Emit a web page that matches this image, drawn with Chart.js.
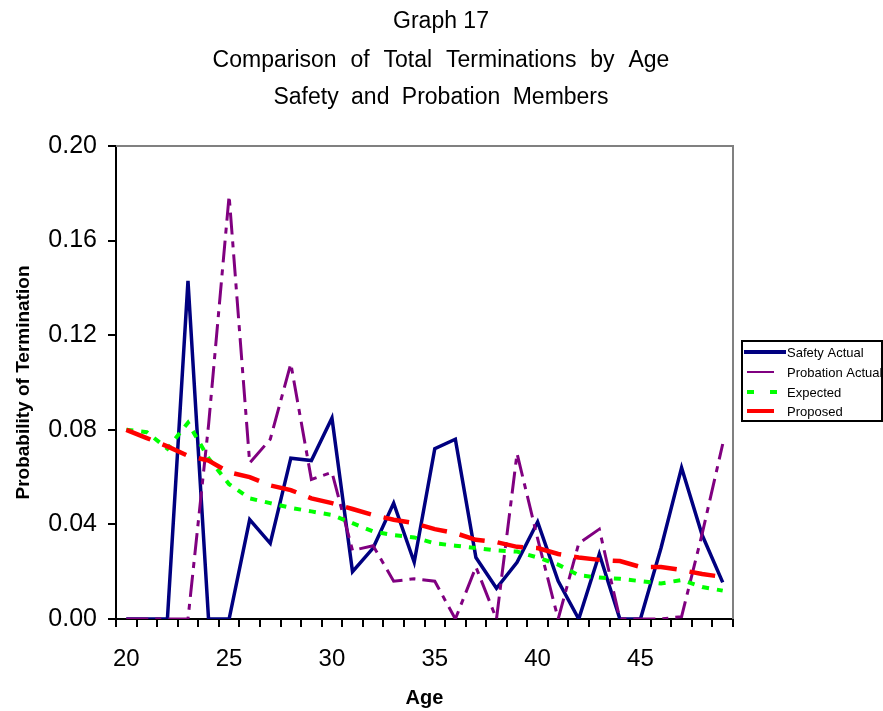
<!DOCTYPE html>
<html><head><meta charset="utf-8">
<script src="https://cdn.jsdelivr.net/npm/chart.js@4.4.1/dist/chart.umd.min.js"></script>
<style>html,body{margin:0;padding:0;background:#fff}</style>
</head><body>
<canvas id="c" width="883" height="711"></canvas>
<script>
const ages = [20,21,22,23,24,25,26,27,28,29,30,31,32,33,34,35,36,37,38,39,40,41,42,43,44,45,46,47,48,49];
const safetyActual = [0,0,0,0.143,0,0,0.042,0.032,0.068,0.067,0.085,0.020,0.030,0.049,0.024,0.072,0.076,0.026,0.013,0.024,0.041,0.016,0,0.0275,0,0,0.030,0.064,0.0355,0.0155];
const probationActual = [0,0,0,0,0.082,0.179,0.066,0.076,0.108,0.059,0.062,0.029,0.031,0.016,0.017,0.016,0,0.022,0,0.070,0.034,0,0.032,0.038,0,0,0,0.001,0.036,0.074];
const expected = [0.080,0.079,0.072,0.083,0.068,0.057,0.051,0.049,0.047,0.0455,0.044,0.0405,0.037,0.0355,0.0345,0.032,0.031,0.030,0.029,0.0285,0.026,0.023,0.0185,0.0175,0.017,0.016,0.015,0.0165,0.0135,0.012];
const proposed = [0.080,0.0765,0.073,0.069,0.067,0.062,0.060,0.0565,0.0545,0.051,0.049,0.0465,0.044,0.042,0.0405,0.038,0.0363,0.0335,0.0325,0.0305,0.030,0.0275,0.026,0.025,0.0245,0.022,0.022,0.0207,0.019,0.0178];
const yTicks = [0,0.04,0.08,0.12,0.16,0.20];
const titleLines = ['Graph 17','Comparison of Total Terminations by Age','Safety and Probation Members'];
const seriesNames = ['Safety Actual','Probation Actual','Expected','Proposed'];

const FONT = "'Liberation Sans', Arial, Helvetica, sans-serif";
Chart.defaults.font.family = FONT;
Chart.defaults.color = '#000';

const decor = {
  id: 'decor',
  beforeDatasetsDraw(chart) {
    const {ctx, chartArea: a} = chart;
    ctx.save();
    ctx.strokeStyle = '#808080';
    ctx.lineWidth = 2;
    ctx.beginPath();
    ctx.moveTo(a.left, a.top);
    ctx.lineTo(a.right, a.top);
    ctx.lineTo(a.right, a.bottom);
    ctx.stroke();
    ctx.restore();
  },
  afterDraw(chart) {
    const ctx = chart.ctx;
    ctx.save();
    // titles
    ctx.fillStyle = '#000';
    ctx.font = '23px ' + FONT;
    ctx.textAlign = 'center';
    ctx.textBaseline = 'alphabetic';
    const ys = [28, 67, 104];
    const ws = ['0px', '7.5px', '6px'];
    titleLines.forEach((t, i) => {
      try { ctx.wordSpacing = ws[i]; } catch (e) {}
      ctx.fillText(t, 441, ys[i]);
    });
    try { ctx.wordSpacing = '0px'; } catch (e) {}
    // legend
    ctx.strokeStyle = '#000';
    ctx.lineWidth = 2;
    ctx.strokeRect(742, 341, 140, 80);
    const rows = [352, 372, 392, 411];
    const ds = chart.data.datasets;
    ctx.lineCap = 'butt';
    ctx.strokeStyle = ds[0].borderColor; ctx.lineWidth = 4;
    ctx.beginPath(); ctx.moveTo(744, rows[0]); ctx.lineTo(786, rows[0]); ctx.stroke();
    ctx.strokeStyle = ds[1].borderColor; ctx.lineWidth = 2;
    ctx.beginPath(); ctx.moveTo(747, rows[1]); ctx.lineTo(774, rows[1]); ctx.stroke();
    ctx.strokeStyle = ds[2].borderColor; ctx.lineWidth = 4;
    ctx.beginPath(); ctx.moveTo(747, rows[2]); ctx.lineTo(754, rows[2]); ctx.moveTo(770, rows[2]); ctx.lineTo(777, rows[2]); ctx.stroke();
    ctx.strokeStyle = ds[3].borderColor; ctx.lineWidth = 4;
    ctx.beginPath(); ctx.moveTo(747, rows[3]); ctx.lineTo(774, rows[3]); ctx.stroke();
    ctx.fillStyle = '#000';
    ctx.font = '13px ' + FONT;
    ctx.textAlign = 'left';
    ctx.textBaseline = 'middle';
    seriesNames.forEach((n, i) => ctx.fillText(n, 787, rows[i] + 1));
    ctx.restore();
  }
};

new Chart(document.getElementById('c'), {
  type: 'line',
  data: {
    labels: ages,
    datasets: [
      {label: seriesNames[0], data: safetyActual, borderColor: '#000080', borderWidth: 3.5, order: 4},
      {label: seriesNames[1], data: probationActual, borderColor: '#800080', borderWidth: 3, borderDash: [22,7,6,7], order: 3},
      {label: seriesNames[2], data: expected, borderColor: '#00FF00', borderWidth: 4, borderDash: [7,8], order: 2},
      {label: seriesNames[3], data: proposed, borderColor: '#FF0000', borderWidth: 4.5, borderDash: [26,13], order: 1}
    ].map(d => Object.assign({pointRadius: 0, pointHoverRadius: 0, fill: false, tension: 0, borderCapStyle: 'butt', borderJoinStyle: 'miter'}, d))
  },
  options: {
    responsive: false,
    devicePixelRatio: 1,
    animation: false,
    events: [],
    layout: {padding: {left: 0, right: 150, top: 146, bottom: 0}},
    plugins: {legend: {display: false}, title: {display: false}, tooltip: {enabled: false}},
    scales: {
      x: {
        type: 'category',
        offset: true,
        grid: {display: true, drawOnChartArea: false, drawTicks: true, tickLength: 8, color: '#000', lineWidth: 2, offset: true},
        border: {color: '#000', width: 2},
        ticks: {autoSkip: false, maxRotation: 0, minRotation: 0, padding: 18, font: {size: 24}, color: '#000',
          callback: (v, i) => (ages[i] % 5 === 0 ? String(ages[i]) : '')},
        title: {display: true, text: 'Age', font: {size: 20, weight: 'bold'}, color: '#000', padding: {top: 0, bottom: 1}},
        afterFit: s => { s.height = 92; }
      },
      y: {
        min: 0, max: 0.2,
        afterBuildTicks: s => { s.ticks = yTicks.map(v => ({value: v})); },
        grid: {display: true, drawOnChartArea: false, drawTicks: true, tickLength: 8, color: '#000', lineWidth: 2},
        border: {color: '#000', width: 2},
        ticks: {padding: 11, font: {size: 25}, color: '#000', callback: v => Number(v).toFixed(2)},
        title: {display: true, text: 'Probability of Termination', font: {size: 19, weight: 'bold'}, color: '#000', padding: {top: 12, bottom: 0}},
        afterFit: s => { s.width = 116; }
      }
    }
  },
  plugins: [decor]
});
</script>
</body></html>
